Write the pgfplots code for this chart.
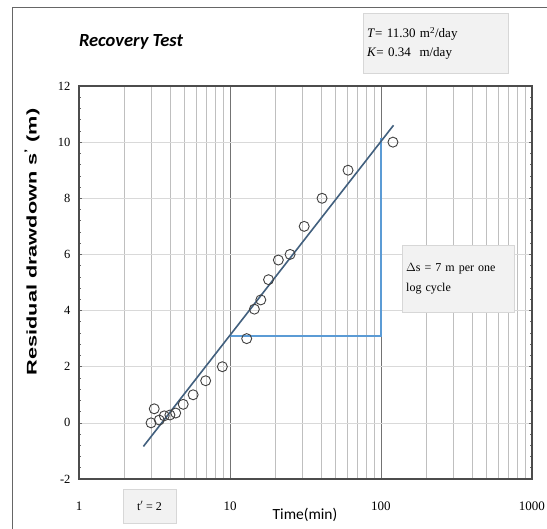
\documentclass[border=0pt]{standalone}
\usepackage{pgfplots}
\pgfplotsset{compat=1.18}
\usepackage{fontspec}
\setmainfont{Liberation Serif}
\setsansfont{Liberation Sans}
\newfontfamily\carlito{Carlito}
\usepackage{graphicx}
\definecolor{fitline}{RGB}{66,96,126}
\definecolor{bluel}{RGB}{91,155,213}
\definecolor{boxfill}{RGB}{242,242,242}
\definecolor{boxdraw}{RGB}{215,215,215}
\begin{document}
\begin{tikzpicture}
\useasboundingbox (0,0) rectangle (547pt,529pt);
\fill[white] (0,0) rectangle (547pt,529pt);
\draw[gray!80!black, line width=1pt] (12pt,0) -- (12pt,521pt) -- (547pt,521pt);
\begin{axis}[
  at={(79pt,50pt)}, anchor=south west,
  scale only axis, width=453pt, height=393pt,
  xmode=log, xmin=1, xmax=1000, ymin=-2, ymax=12,
  xtick={1,10,100,1000}, xticklabels={1,10,100,1000},
  ytick={-2,0,2,4,6,8,10,12},
  minor y tick num=4,
  xmajorgrids, xminorgrids, ymajorgrids,
  major grid style={black!55, line width=0.8pt},
  minor grid style={black!25, line width=0.7pt},
  y grid style={black!15, line width=0.7pt},
  axis line style={black!70, line width=1.1pt},
  tick align=inside,
  xtick style={draw=none},
  ytick style={black!60, line width=0.6pt},
  major tick length=3pt, minor tick length=2pt,
  /pgf/number format/assume math mode=true,
  xticklabel style={font=\fontsize{13}{14}\selectfont, yshift=-19pt},
  yticklabel style={font=\fontsize{12.5}{14}\selectfont, xshift=-5pt},
  clip=false,
]
\addplot[bluel, line width=1.6pt] coordinates {(10,3.1) (100,3.1) (100,10.15)};
\addplot[fitline, line width=1.6pt] coordinates {(2.67,-0.84) (121,10.6)};
\addplot[only marks, mark=o, mark size=5pt, mark options={black!75, line width=0.9pt}] coordinates {
(3.0,0.0) (3.15,0.5) (3.4,0.1) (3.67,0.25) (4.0,0.28) (4.37,0.35)
(4.9,0.66) (5.7,1.0) (6.9,1.5) (8.9,2.0) (12.9,3.0) (14.5,4.05)
(16,4.38) (18,5.1) (20.9,5.8) (25,6.0) (31,7.0) (40.7,8.0)
(60.5,9.0) (120,10.0)};
\end{axis}
% title
\node[font=\carlito\bfseries\itshape\fontsize{18.5}{20}\selectfont] at (131pt,487pt) {Recovery Test};
% info box
\node[draw=boxdraw, fill=boxfill, minimum width=145pt, minimum height=60pt, anchor=north west, align=left, text width=137pt, inner sep=4pt, font=\fontsize{13}{19}\selectfont] at (363pt,516pt) {\textit{T}= 11.30 m\textsuperscript{2}/day\\ \textit{K}= 0.34~~m/day};
% delta s box
\node[draw=boxdraw, fill=boxfill, minimum width=110pt, minimum height=67pt, anchor=north west, align=left, text width=104pt, inner sep=4pt, font=\fontsize{12}{20}\selectfont] at (402pt,284pt) {$\Delta$s = 7 m per one\\ log cycle};
% t' box
\node[draw=boxdraw, fill=boxfill, minimum width=53pt, minimum height=34pt, font=\fontsize{12}{13}\selectfont] at (149.5pt,23pt) {t$'$ = 2};
% axis labels
\node[font=\carlito\fontsize{15.5}{16}\selectfont] at (305pt,14pt) {Time(min)};
\node[rotate=90, font=\sffamily\bfseries\fontsize{14}{16}\selectfont] at (32pt,287pt) {\scalebox{1.55}[1]{Residual drawdown s\textsuperscript{'} (m)}};
\end{tikzpicture}
\end{document}
